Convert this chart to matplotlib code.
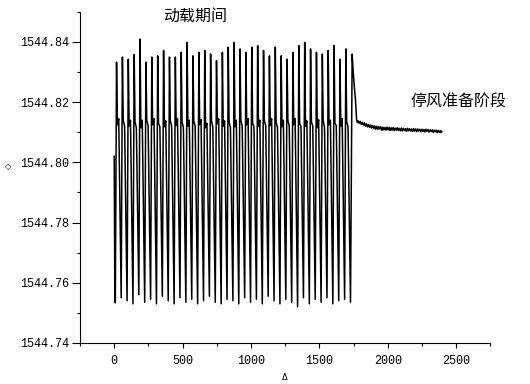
import matplotlib
matplotlib.use("Agg")
import matplotlib.pyplot as plt
from matplotlib.ticker import MultipleLocator, FormatStrFormatter

# ---- data ----
start_t = [0, 4]
start_v = [1544.8020, 1544.7600]

cycle_t = [8, 51, 94, 137, 180, 223, 266, 309, 352, 395, 438, 481, 524, 567,
           610, 653, 696, 739, 782, 825, 868, 911, 954, 997, 1040, 1083, 1126,
           1169, 1212, 1255, 1298, 1341, 1384, 1427, 1470, 1513, 1556, 1599,
           1642, 1685]
trough_v = [1544.7533, 1544.7550, 1544.7540, 1544.7530, 1544.7560, 1544.7535,
            1544.7545, 1544.7530, 1544.7555, 1544.7540, 1544.7530, 1544.7550,
            1544.7535, 1544.7545, 1544.7530, 1544.7540, 1544.7555, 1544.7535,
            1544.7530, 1544.7545, 1544.7540, 1544.7530, 1544.7550, 1544.7535,
            1544.7545, 1544.7530, 1544.7555, 1544.7540, 1544.7530, 1544.7545,
            1544.7535, 1544.7520, 1544.7550, 1544.7530, 1544.7545, 1544.7535,
            1544.7550, 1544.7530, 1544.7540, 1544.7545]
peak_v = [1544.8333, 1544.8350, 1544.8343, 1544.8358, 1544.8410, 1544.8333,
          1544.8350, 1544.8354, 1544.8372, 1544.8350, 1544.8350, 1544.8366,
          1544.8399, 1544.8354, 1544.8366, 1544.8372, 1544.8360, 1544.8338,
          1544.8366, 1544.8383, 1544.8399, 1544.8377, 1544.8366, 1544.8383,
          1544.8388, 1544.8372, 1544.8354, 1544.8383, 1544.8354, 1544.8343,
          1544.8366, 1544.8388, 1544.8399, 1544.8377, 1544.8366, 1544.8360,
          1544.8372, 1544.8388, 1544.8343, 1544.8377]
plateau_a = [1544.8125, 1544.8140, 1544.8120, 1544.8135, 1544.8115, 1544.8140,
             1544.8125, 1544.8130, 1544.8118, 1544.8140, 1544.8122, 1544.8135,
             1544.8120, 1544.8138, 1544.8125, 1544.8115, 1544.8140, 1544.8128,
             1544.8120, 1544.8135, 1544.8118, 1544.8140, 1544.8125, 1544.8130,
             1544.8120, 1544.8138, 1544.8122, 1544.8135, 1544.8118, 1544.8140,
             1544.8125, 1544.8130, 1544.8120, 1544.8135, 1544.8115, 1544.8140,
             1544.8125, 1544.8130, 1544.8120, 1544.8135]
plateau_b = [1544.8145, 1544.8120, 1544.8140, 1544.8115, 1544.8140, 1544.8122,
             1544.8145, 1544.8118, 1544.8138, 1544.8120, 1544.8145, 1544.8115,
             1544.8140, 1544.8120, 1544.8142, 1544.8130, 1544.8118, 1544.8145,
             1544.8138, 1544.8115, 1544.8140, 1544.8120, 1544.8145, 1544.8118,
             1544.8140, 1544.8122, 1544.8145, 1544.8115, 1544.8140, 1544.8120,
             1544.8145, 1544.8118, 1544.8138, 1544.8120, 1544.8142, 1544.8115,
             1544.8140, 1544.8122, 1544.8145, 1544.8118]

tail_t = [1728, 1740, 1748, 1756, 1764, 1773, 1779, 1785, 1792, 1800, 1807,
          1815, 1822, 1830, 1837, 1845, 1852, 1860, 1867, 1875, 1882, 1890,
          1897, 1905, 1912, 1920, 1927, 1935, 1942, 1950, 1957, 1965, 1972,
          1980, 1987, 1995, 2002, 2010, 2017, 2025, 2032, 2040, 2047, 2055,
          2062, 2070, 2077, 2085, 2092, 2100, 2107, 2115, 2122, 2130, 2137,
          2145, 2152, 2160, 2167, 2175, 2182, 2190, 2197, 2205, 2212, 2220,
          2227, 2235, 2242, 2250, 2257, 2265, 2272, 2280, 2287, 2295, 2302,
          2310, 2317, 2325, 2332, 2340, 2347, 2355, 2362, 2370, 2377, 2385,
          2390, 2395]
tail_v = [1544.7535, 1544.8360, 1544.8300, 1544.8250, 1544.8210, 1544.8140,
          1544.8132, 1544.8138, 1544.8130, 1544.8136, 1544.8126, 1544.8133,
          1544.8124, 1544.8131, 1544.8120, 1544.8128, 1544.8118, 1544.8126,
          1544.8116, 1544.8124, 1544.8114, 1544.8123, 1544.8113, 1544.8121,
          1544.8110, 1544.8120, 1544.8109, 1544.8119, 1544.8111, 1544.8118,
          1544.8106, 1544.8117, 1544.8108, 1544.8116, 1544.8107, 1544.8117,
          1544.8108, 1544.8116, 1544.8106, 1544.8115, 1544.8107, 1544.8116,
          1544.8105, 1544.8114, 1544.8107, 1544.8115, 1544.8106, 1544.8113,
          1544.8105, 1544.8114, 1544.8104, 1544.8113, 1544.8106, 1544.8112,
          1544.8103, 1544.8113, 1544.8105, 1544.8112, 1544.8104, 1544.8111,
          1544.8103, 1544.8112, 1544.8104, 1544.8111, 1544.8102, 1544.8111,
          1544.8104, 1544.8110, 1544.8102, 1544.8110, 1544.8103, 1544.8109,
          1544.8101, 1544.8110, 1544.8103, 1544.8109, 1544.8101, 1544.8108,
          1544.8102, 1544.8108, 1544.8100, 1544.8107, 1544.8101, 1544.8107,
          1544.8099, 1544.8106, 1544.8100, 1544.8105, 1544.8099, 1544.8103]

label_load = "动载期间"
label_stop = "停风准备阶段"

# ---- assemble the line from the per-cycle readings ----
xs = list(start_t)
ys = list(start_v)
for t0, tr, pk, pa, pb in zip(cycle_t, trough_v, peak_v, plateau_a, plateau_b):
    xs += [t0, t0 + 9, t0 + 15, t0 + 25]
    ys += [tr, pk, pa, pb]
xs += tail_t
ys += tail_v

plt.rcParams['font.family'] = ['Noto Sans CJK SC', 'DejaVu Sans']

fig = plt.figure(figsize=(5.30, 3.84), dpi=100)
ax = fig.add_axes([0.151, 0.107, 0.774, 0.862])
ax.plot(xs, ys, color='black', linewidth=1.1)

ax.set_xlim(-250, 2750)
ax.set_ylim(1544.74, 1544.85)
ax.xaxis.set_major_locator(MultipleLocator(500))
ax.xaxis.set_minor_locator(MultipleLocator(250))
ax.yaxis.set_major_locator(MultipleLocator(0.02))
ax.yaxis.set_minor_locator(MultipleLocator(0.01))
ax.yaxis.set_major_formatter(FormatStrFormatter('%.2f'))

for s in ['top', 'right']:
    ax.spines[s].set_visible(False)
for s in ['left', 'bottom']:
    ax.spines[s].set_linewidth(0.8)

ax.tick_params(axis='y', which='major', length=5.5, width=0.8, direction='out', pad=2)
ax.tick_params(axis='y', which='minor', length=2.2, width=0.8, direction='out')
ax.tick_params(axis='x', which='major', length=3.6, width=0.8, direction='out', pad=5)
ax.tick_params(axis='x', which='minor', length=2.2, width=0.8, direction='out')
for lab in ax.get_xticklabels() + ax.get_yticklabels():
    lab.set_family('Liberation Mono')
    lab.set_fontsize(8.5)

ax.set_xlabel('Δ', fontsize=6, family='DejaVu Sans', va='center')
ax.xaxis.set_label_coords(0.5, -0.105)
ax.set_ylabel('◇', fontsize=6, family='DejaVu Sans', rotation=0)
ax.yaxis.set_label_coords(-0.175, 0.52)

ax.text(360, 1544.8487, label_load, fontsize=11.5, va='center', ha='left')
ax.text(2170, 1544.8200, label_stop, fontsize=11.5, va='center', ha='left')

fig.savefig('out.png', dpi=100)
